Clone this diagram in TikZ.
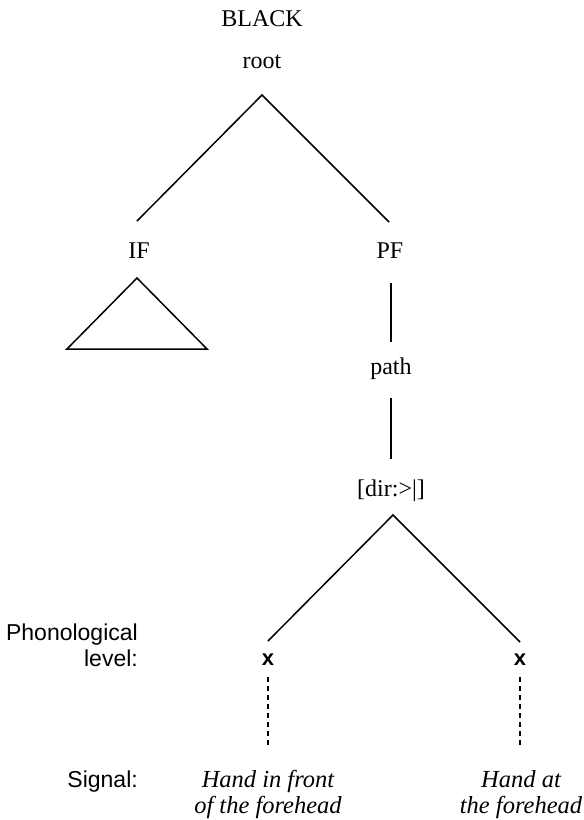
\documentclass[tikz,border=0pt]{standalone}
\usepackage{fontspec}
\setmainfont{Liberation Serif}
\setsansfont{Liberation Sans}
\begin{document}
\begin{tikzpicture}[x=1pt,y=-1pt,
  lbl/.style={inner sep=0pt,anchor=base,font=\fontsize{24}{26}\selectfont},
  side/.style={inner sep=0pt,anchor=base east,align=right,font=\fontsize{23}{26}\selectfont\sffamily},
  sig/.style={inner sep=0pt,anchor=base,align=center,font=\fontsize{24.5}{26}\selectfont\itshape},
  xm/.style={inner sep=0pt,anchor=base,font=\fontsize{22}{26}\selectfont\sffamily\bfseries},
  edge/.style={line width=1.5pt},
  dedge/.style={line width=1.5pt,dash pattern=on 5pt off 4pt}]
\useasboundingbox (0,0) rectangle (584,820);
% text nodes
\node[lbl] (black) at (262,26) {BLACK};
\node[lbl] (root) at (262,68) {root};
\node[lbl] (IF) at (139,258) {IF};
\node[lbl] (PF) at (390,258) {PF};
\node[lbl] (path) at (391,374) {path};
\node[lbl] (dir) at (391,496) {[dir:>|]};
\node[xm] (x1) at (268,665) {x};
\node[xm] (x2) at (520,665) {x};
\node[side] (phon) at (138,666) {Phonological\\level:};
\node[side] (signal) at (138,787) {Signal:};
\node[sig] (s1) at (268,813) {Hand in front\\of the forehead};
\node[sig] (s2) at (521,813) {Hand at\\the forehead};
% connector ends
\coordinate (rootB) at (262,95);
\coordinate (IFT) at (137,221);
\coordinate (PFT) at (389,222);
\coordinate (PFB) at (391,283);
\coordinate (pathT) at (391,342);
\coordinate (pathB) at (391,398);
\coordinate (dirT) at (391,459);
\coordinate (dirB) at (393,515);
\coordinate (x1T) at (268,641);
\coordinate (x2T) at (520,642);
\coordinate (x1B) at (268,677);
\coordinate (x2B) at (520,677);
\coordinate (s1T) at (268,746);
\coordinate (s2T) at (520,746);
\coordinate (triA) at (137,278);
\coordinate (triL) at (67,349);
\coordinate (triR) at (207,349);
% edges
\draw[edge] (IFT) -- (rootB) -- (PFT);
\draw[edge] (PFB) -- (pathT);
\draw[edge] (pathB) -- (dirT);
\draw[edge] (x1T) -- (dirB) -- (x2T);
\draw[edge,line join=miter] (triA) -- (triL) -- (triR) -- cycle;
\draw[dedge] (x1B) -- (s1T);
\draw[dedge] (x2B) -- (s2T);
\end{tikzpicture}
\end{document}
